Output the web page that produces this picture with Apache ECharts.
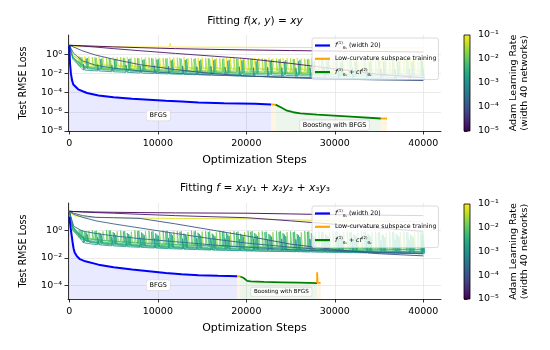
<!DOCTYPE html>
<html>
<head>
<meta charset="utf-8">
<script src="https://cdn.jsdelivr.net/npm/echarts@6.0.0/dist/echarts.min.js"></script>
<style>
html, body { margin: 0; padding: 0; background: #fff; }
#main { width: 550px; height: 350px; }
</style>
</head>
<body>
<div id="main"></div>
<script>
// ticks
var stepTicks = [0, 10000, 20000, 30000, 40000];
var topLossTicks = [1e-8, 1e-6, 1e-4, 1e-2, 1];
var botLossTicks = [1e-4, 1e-2, 1];
var lrTicks = [1e-5, 1e-4, 1e-3, 1e-2, 1e-1];

// ---- top panel, f(x,y) = xy ----
var topBfgsSteps = [0, 80, 180, 300, 450, 1000, 2000, 3300, 5000, 7100, 9000, 10900, 12700, 14600, 17500, 21000, 22800];
var topBfgsLoss = [8, 0.1, 0.01, 2e-3, 7e-4, 2.2e-4, 9e-5, 5e-5, 3.2e-5, 2.3e-5, 1.8e-5, 1.4e-5, 1.15e-5, 9.4e-6, 8e-6, 6.9e-6, 5.8e-6];
var topLcSteps1 = [22800, 23300];
var topLcLoss1 = [5.8e-6, 5.6e-6];
var topBoostSteps = [23300, 23500, 24000, 24600, 25300, 26100, 28000, 31800, 35200];
var topBoostLoss = [5.6e-6, 5e-6, 2.6e-6, 1.3e-6, 9e-7, 7e-7, 5e-7, 3.1e-7, 2e-7];
var topLcSteps2 = [35200, 35900];
var topLcLoss2 = [2e-7, 2e-7];

// ---- bottom panel, f = x1y1 + x2y2 + x3y3 ----
var botBfgsSteps = [0, 150, 360, 475, 600, 860, 1200, 1800, 3300, 5000, 7100, 9000, 10900, 12700, 14600, 16800, 18960];
var botBfgsLoss = [10, 1.5, 0.15, 0.05, 0.025, 0.013, 8e-3, 5.6e-3, 3.2e-3, 2.1e-3, 1.4e-3, 1.05e-3, 7.9e-4, 6.4e-4, 5.4e-4, 4.9e-4, 4.5e-4];
var botLcSteps1 = [18960, 19330];
var botLcLoss1 = [4.5e-4, 4.4e-4];
var botBoostSteps = [19330, 19700, 20100, 20500, 22000, 24000, 26000, 28000];
var botBoostLoss = [4.4e-4, 3.4e-4, 2.1e-4, 1.9e-4, 1.75e-4, 1.65e-4, 1.55e-4, 1.45e-4];
var botLcSteps2 = [28000, 28000, 28060, 28400];
var botLcLoss2 = [1.45e-4, 9e-4, 1.5e-4, 1.5e-4];

// ---- Adam runs: smooth (low learning rate) ----
var smoothSteps = [0, 500, 1500, 3000, 5000, 8000, 12000, 16000, 20000, 25000, 30000, 35000, 40000];
var topSmoothLR = [1e-5, 2e-5, 1e-4, 3e-4];
var topSmooth1 = [8.5, 8.2, 7.6, 6.8, 5.8, 4.8, 3.8, 3.2, 2.8, 2.4, 2.1, 1.9, 1.7];
var topSmooth2 = [8.5, 8, 7, 5.5, 3.8, 2.3, 1.2, 0.65, 0.35, 0.11, 0.03, 0.008, 0.0035];
var topSmooth3 = [8.5, 5.5, 2.2, 0.8, 0.3, 0.08, 0.025, 0.01, 0.0055, 0.0035, 0.0026, 0.0021, 0.0018];
var topSmooth4 = [8.5, 1.2, 0.2, 0.07, 0.035, 0.018, 0.01, 0.007, 0.0052, 0.0038, 0.003, 0.0025, 0.0021];
var topFlatLR = 1e-1;
var topFlatSteps = [0, 500, 1500, 5000, 11300, 11400, 11500, 20000, 30000, 40000];
var topFlatLoss = [8.5, 6, 6, 5.8, 5.5, 15, 5.5, 5.2, 4.8, 4.5];

var botSmoothLR = [1e-5, 2e-5, 1e-4, 2e-4, 3e-4];
var botSmooth1 = [25, 24, 23, 22, 21, 20, 19, 18.5, 18, 16, 14, 13, 12];
var botSmooth2 = [25, 24, 22, 20, 18, 15, 12, 10, 8.5, 5, 2.8, 1.5, 0.85];
var botSmooth3 = [25, 18, 12, 9, 8.5, 7.5, 3, 1.1, 0.4, 0.1, 0.04, 0.02, 0.014];
var botSmooth4 = [25, 15, 9, 5, 3, 1.5, 0.6, 0.25, 0.12, 0.06, 0.035, 0.025, 0.02];
var botSmooth5 = [25, 2, 0.9, 0.6, 0.4, 0.25, 0.15, 0.09, 0.06, 0.04, 0.03, 0.025, 0.022];
var botFlatLR = 6e-2;
var botFlatLoss = [25, 12, 9.5, 9, 8.5, 8, 7.5, 7.2, 7, 6, 5, 4.7, 4.5];

// ---- Adam runs: spiky (higher learning rate), spike positions ----
var sA = [0, 400, 1600, 3200, 4800, 6400, 8000, 9600, 11200, 12800, 14400, 16000, 17600, 19200, 20800, 22400, 24000, 25600, 27200, 28800, 30400, 32000, 33600, 35200, 36800, 38400, 40000];
var sB = [0, 400, 1900, 3500, 5100, 6700, 8300, 9900, 11500, 13100, 14700, 16300, 17900, 19500, 21100, 22700, 24300, 25900, 27500, 29100, 30700, 32300, 33900, 35500, 37100, 38700, 39900];
var sC = [0, 400, 1300, 2900, 4500, 6100, 7700, 9300, 10900, 12500, 14100, 15700, 17300, 18900, 20500, 22100, 23700, 25300, 26900, 28500, 30100, 31700, 33300, 34900, 36500, 38100, 39700];
var sD = [0, 400, 1100, 2600, 4200, 5800, 7400, 9000, 10600, 12200, 13800, 15400, 17000, 18600, 20200, 21800, 23400, 25000, 26600, 28200, 29800, 31400, 33000, 34600, 36200, 37800, 39400];
var sE = [0, 400, 2200, 3800, 5400, 7000, 8600, 10200, 11800, 13400, 15000, 16600, 18200, 19800, 21400, 23000, 24600, 26200, 27800, 29400, 31000, 32600, 34200, 35800, 37400, 39000, 40000];
var sF = [0, 400, 1450, 3050, 4650, 6250, 7850, 9450, 11050, 12650, 14250, 15850, 17450, 19050, 20650, 22250, 23850, 25450, 27050, 28650, 30250, 31850, 33450, 35050, 36650, 38250, 39850];
var sG = [0, 400, 1750, 3350, 4950, 6550, 8150, 9750, 11350, 12950, 14550, 16150, 17750, 19350, 20950, 22550, 24150, 25750, 27350, 28950, 30550, 32150, 33750, 35350, 36950, 38550, 39950];
var sH = [0, 400, 2050, 3650, 5250, 6850, 8450, 10050, 11650, 13250, 14850, 16450, 18050, 19650, 21250, 22850, 24450, 26050, 27650, 29250, 30850, 32450, 34050, 35650, 37250, 38850, 39800];

var topSpikyLR = [1e-3, 3e-3, 1e-2, 3e-2, 6e-2, 2e-2, 8e-2, 5e-3];
var topT1Low = [8.5, 0.3, 0.022, 0.018, 0.015, 0.013, 0.011, 0.0098, 0.0088, 0.008, 0.0072, 0.0065, 0.006, 0.0055, 0.005, 0.0046, 0.0042, 0.004, 0.0037, 0.0034, 0.0032, 0.003, 0.0028, 0.0026, 0.0025, 0.0023, 0.0022];
var topT1High = [8.5, 0.3, 0.09, 0.08, 0.07, 0.075, 0.06, 0.065, 0.055, 0.06, 0.05, 0.055, 0.045, 0.05, 0.04, 0.045, 0.04, 0.035, 0.04, 0.035, 0.03, 0.035, 0.03, 0.03, 0.028, 0.03, 0.025];
var topT2Low = [8.5, 0.4, 0.03, 0.024, 0.02, 0.017, 0.015, 0.013, 0.012, 0.011, 0.0098, 0.009, 0.0083, 0.0077, 0.0071, 0.0066, 0.0062, 0.0058, 0.0054, 0.0051, 0.0048, 0.0045, 0.0043, 0.004, 0.0038, 0.0036, 0.0035];
var topT2High = [8.5, 0.4, 0.35, 0.3, 0.28, 0.3, 0.25, 0.27, 0.22, 0.25, 0.2, 0.23, 0.2, 0.22, 0.18, 0.2, 0.17, 0.19, 0.16, 0.18, 0.15, 0.17, 0.15, 0.16, 0.14, 0.15, 0.14];
var topT3Low = [8.5, 0.5, 0.045, 0.036, 0.03, 0.026, 0.023, 0.02, 0.018, 0.016, 0.015, 0.014, 0.013, 0.012, 0.011, 0.0105, 0.01, 0.0095, 0.009, 0.0085, 0.008, 0.0076, 0.0072, 0.0068, 0.0065, 0.0062, 0.006];
var topT3High = [8.5, 0.5, 0.5, 0.45, 0.4, 0.42, 0.38, 0.4, 0.35, 0.38, 0.33, 0.36, 0.32, 0.34, 0.3, 0.33, 0.3, 0.32, 0.28, 0.31, 0.28, 0.3, 0.27, 0.29, 0.26, 0.28, 0.26];
var topT4Low = [8.5, 0.6, 0.06, 0.05, 0.042, 0.036, 0.032, 0.029, 0.026, 0.024, 0.022, 0.02, 0.019, 0.018, 0.017, 0.016, 0.015, 0.014, 0.0135, 0.013, 0.0125, 0.012, 0.0115, 0.011, 0.0105, 0.01, 0.0098];
var topT4High = [8.5, 0.6, 0.6, 0.5, 0.45, 0.5, 0.42, 0.45, 0.4, 0.42, 0.38, 0.4, 0.36, 0.4, 0.35, 0.38, 0.34, 0.36, 0.33, 0.35, 0.32, 0.34, 0.31, 0.33, 0.3, 0.32, 0.3];
var topT5Low = [8.5, 0.7, 0.08, 0.065, 0.055, 0.048, 0.043, 0.039, 0.036, 0.033, 0.031, 0.029, 0.027, 0.026, 0.025, 0.024, 0.023, 0.022, 0.021, 0.02, 0.0195, 0.019, 0.0185, 0.018, 0.0175, 0.017, 0.0165];
var topT5High = [8.5, 0.7, 0.55, 0.5, 0.48, 0.45, 0.47, 0.42, 0.45, 0.4, 0.43, 0.38, 0.42, 0.37, 0.4, 0.36, 0.39, 0.35, 0.38, 0.34, 0.37, 0.34, 0.36, 0.33, 0.35, 0.32, 0.34];
var topT6Low = [8.5, 0.55, 0.05, 0.04, 0.034, 0.03, 0.027, 0.024, 0.022, 0.02, 0.018, 0.017, 0.016, 0.015, 0.014, 0.013, 0.0125, 0.012, 0.0115, 0.011, 0.0105, 0.01, 0.0097, 0.0094, 0.0091, 0.0088, 0.0085];
var topT6High = [8.5, 0.55, 0.45, 0.42, 0.4, 0.38, 0.4, 0.36, 0.38, 0.34, 0.37, 0.33, 0.36, 0.32, 0.35, 0.31, 0.34, 0.3, 0.33, 0.3, 0.32, 0.29, 0.31, 0.28, 0.3, 0.28, 0.29];
var topT7Low = [8.5, 0.8, 0.1, 0.08, 0.068, 0.06, 0.054, 0.049, 0.045, 0.042, 0.039, 0.037, 0.035, 0.033, 0.031, 0.03, 0.029, 0.028, 0.027, 0.026, 0.025, 0.024, 0.023, 0.022, 0.022, 0.021, 0.02];
var topT7High = [8.5, 0.8, 0.6, 0.55, 0.5, 0.52, 0.48, 0.5, 0.45, 0.48, 0.44, 0.46, 0.42, 0.45, 0.41, 0.44, 0.4, 0.43, 0.4, 0.42, 0.39, 0.41, 0.38, 0.4, 0.38, 0.39, 0.37];
var topT8Low = [8.5, 0.45, 0.035, 0.028, 0.024, 0.021, 0.019, 0.017, 0.015, 0.014, 0.013, 0.012, 0.011, 0.0102, 0.0095, 0.009, 0.0085, 0.008, 0.0076, 0.0072, 0.0069, 0.0066, 0.0063, 0.006, 0.0058, 0.0056, 0.0054];
var topT8High = [8.5, 0.45, 0.4, 0.35, 0.33, 0.35, 0.3, 0.32, 0.28, 0.3, 0.27, 0.29, 0.26, 0.28, 0.25, 0.27, 0.24, 0.26, 0.23, 0.25, 0.23, 0.24, 0.22, 0.23, 0.21, 0.22, 0.21];

var botSpikyLR = [1.5e-3, 3e-3, 5e-3, 1e-2, 2e-2, 7e-3, 4e-3, 2e-3];
var botB1Low = [25, 2, 0.12, 0.09, 0.075, 0.065, 0.058, 0.052, 0.047, 0.043, 0.04, 0.037, 0.035, 0.033, 0.031, 0.03, 0.029, 0.028, 0.027, 0.026, 0.025, 0.024, 0.023, 0.022, 0.022, 0.021, 0.02];
var botB1High = [25, 2, 0.35, 0.3, 0.32, 0.28, 0.3, 0.26, 0.28, 0.25, 0.27, 0.24, 0.26, 0.23, 0.25, 0.22, 0.24, 0.22, 0.23, 0.21, 0.22, 0.2, 0.22, 0.2, 0.21, 0.19, 0.2];
var botB2Low = [25, 1.5, 0.16, 0.12, 0.1, 0.085, 0.075, 0.067, 0.06, 0.055, 0.05, 0.047, 0.044, 0.041, 0.039, 0.037, 0.035, 0.034, 0.033, 0.032, 0.031, 0.03, 0.029, 0.028, 0.028, 0.027, 0.026];
var botB2High = [25, 1.5, 0.7, 0.6, 0.65, 0.55, 0.6, 0.5, 0.58, 0.5, 0.55, 0.48, 0.52, 0.47, 0.5, 0.45, 0.5, 0.45, 0.48, 0.44, 0.47, 0.43, 0.46, 0.42, 0.45, 0.42, 0.44];
var botB3Low = [25, 1.2, 0.22, 0.16, 0.13, 0.11, 0.095, 0.085, 0.077, 0.07, 0.064, 0.06, 0.056, 0.052, 0.049, 0.046, 0.044, 0.042, 0.04, 0.038, 0.037, 0.035, 0.034, 0.033, 0.032, 0.031, 0.03];
var botB3High = [25, 1.2, 1.0, 0.9, 0.95, 0.85, 0.9, 0.8, 0.88, 0.8, 0.85, 0.78, 0.83, 0.76, 0.8, 0.75, 0.8, 0.74, 0.78, 0.72, 0.77, 0.72, 0.75, 0.7, 0.74, 0.7, 0.72];
var botB4Low = [25, 1.0, 0.3, 0.22, 0.18, 0.15, 0.13, 0.115, 0.1, 0.092, 0.085, 0.078, 0.072, 0.067, 0.063, 0.06, 0.057, 0.054, 0.052, 0.05, 0.048, 0.046, 0.044, 0.043, 0.042, 0.041, 0.04];
var botB4High = [25, 1.0, 1.1, 1.0, 1.05, 0.95, 1.0, 0.92, 0.98, 0.9, 0.96, 0.88, 0.94, 0.86, 0.92, 0.85, 0.9, 0.84, 0.88, 0.82, 0.87, 0.82, 0.86, 0.8, 0.85, 0.8, 0.84];
var botB5Low = [25, 0.9, 0.25, 0.19, 0.16, 0.14, 0.12, 0.105, 0.095, 0.087, 0.08, 0.074, 0.069, 0.065, 0.061, 0.058, 0.055, 0.053, 0.051, 0.049, 0.047, 0.045, 0.044, 0.043, 0.042, 0.041, 0.04];
var botB5High = [25, 0.9, 0.9, 0.85, 0.88, 0.8, 0.86, 0.78, 0.84, 0.76, 0.82, 0.75, 0.8, 0.74, 0.79, 0.73, 0.78, 0.72, 0.77, 0.71, 0.76, 0.7, 0.75, 0.7, 0.74, 0.69, 0.73];
var botB6Low = [25, 1.1, 0.28, 0.2, 0.16, 0.135, 0.118, 0.105, 0.095, 0.087, 0.08, 0.074, 0.069, 0.065, 0.061, 0.058, 0.055, 0.052, 0.05, 0.048, 0.046, 0.044, 0.043, 0.042, 0.041, 0.04, 0.039];
var botB6High = [25, 1.1, 1.05, 0.95, 1.0, 0.9, 0.97, 0.88, 0.95, 0.86, 0.93, 0.85, 0.9, 0.83, 0.89, 0.82, 0.88, 0.81, 0.86, 0.8, 0.85, 0.79, 0.84, 0.78, 0.83, 0.78, 0.82];
var botB7Low = [25, 1.4, 0.18, 0.13, 0.11, 0.093, 0.082, 0.073, 0.066, 0.06, 0.055, 0.051, 0.048, 0.045, 0.042, 0.04, 0.038, 0.036, 0.035, 0.034, 0.033, 0.032, 0.031, 0.03, 0.029, 0.028, 0.028];
var botB7High = [25, 1.4, 0.8, 0.7, 0.75, 0.65, 0.72, 0.62, 0.7, 0.6, 0.68, 0.58, 0.66, 0.57, 0.64, 0.56, 0.63, 0.55, 0.62, 0.54, 0.6, 0.53, 0.6, 0.52, 0.58, 0.52, 0.57];
var botB8Low = [25, 1.8, 0.14, 0.1, 0.085, 0.073, 0.064, 0.057, 0.052, 0.047, 0.043, 0.04, 0.037, 0.035, 0.033, 0.031, 0.03, 0.029, 0.028, 0.027, 0.026, 0.025, 0.024, 0.023, 0.023, 0.022, 0.021];
var botB8High = [25, 1.8, 0.5, 0.45, 0.48, 0.42, 0.46, 0.4, 0.44, 0.38, 0.42, 0.37, 0.4, 0.36, 0.39, 0.35, 0.38, 0.34, 0.37, 0.33, 0.36, 0.33, 0.35, 0.32, 0.34, 0.32, 0.33];

var FONT = 'DejaVu Sans';
var SPIKE_W = 150;   // width of one spike, in steps

var SUP = {'0': '⁰', '1': '¹', '2': '²', '3': '³', '4': '⁴', '5': '⁵', '6': '⁶', '7': '⁷', '8': '⁸', '9': '⁹', '-': '⁻'};
function powLabel(v) {
    var e = String(Math.round(Math.log10(v)));
    return '10' + e.split('').map(function (c) { return SUP[c]; }).join('');
}

var VIRIDIS = [[68,1,84],[72,36,117],[65,68,135],[53,95,141],[42,120,142],[33,145,140],[34,168,132],[68,191,112],[122,209,81],[189,223,38],[253,231,37]];
function lrColor(lr) {
    var t = (Math.log10(lr) + 5) / 4;
    t = Math.max(0, Math.min(1, t)) * 10;
    var i = Math.min(9, Math.floor(t)), f = t - i;
    var a = VIRIDIS[i], b = VIRIDIS[i + 1];
    return 'rgb(' + [0, 1, 2].map(function (k) { return Math.round(a[k] + (b[k] - a[k]) * f); }).join(',') + ')';
}

function pairs(xs, ys) {
    return xs.map(function (x, i) { return [x, ys[i]]; });
}
function spiky(xs, lows, highs) {
    var out = [];
    for (var i = 0; i < xs.length; i++) {
        out.push([xs[i], lows[i]]);
        if (highs[i] > lows[i]) {
            out.push([xs[i], highs[i]]);
            out.push([xs[i] + SPIKE_W, lows[i]]);
        }
    }
    return out;
}

function adamLine(g, data, lr, w) {
    return {
        type: 'line', xAxisIndex: g, yAxisIndex: g, data: data, symbol: 'none', silent: true, z: 2,
        itemStyle: {color: lrColor(lr)},
        lineStyle: {color: lrColor(lr), width: w, opacity: 0.9}
    };
}
function mainLine(g, name, data, color, fill, width) {
    return {
        type: 'line', name: name, xAxisIndex: g, yAxisIndex: g, data: data, symbol: 'none', silent: true, z: 3,
        itemStyle: {color: color},
        lineStyle: {color: color, width: width},
        areaStyle: {origin: 'start', color: fill}
    };
}
function note(text, coord, size, bg) {
    return {
        symbol: 'circle', symbolSize: 1, silent: true,
        itemStyle: {color: 'rgba(0,0,0,0)'},
        label: {show: true, position: 'inside', formatter: text, fontSize: size, fontFamily: FONT, color: '#000',
            backgroundColor: bg, borderColor: '#d8d8d8', borderWidth: 0.6, borderRadius: 2, padding: [2, 3, 1, 3]},
        data: [{coord: coord}]
    };
}

var BLUE_FILL = 'rgba(0,0,255,0.12)';
var GREEN_FILL = 'rgba(0,128,0,0.10)';
var ORANGE_FILL = 'rgba(255,165,0,0.16)';

var topSpiky = [
    [sA, topT1Low, topT1High], [sB, topT2Low, topT2High], [sC, topT3Low, topT3High], [sD, topT4Low, topT4High],
    [sE, topT5Low, topT5High], [sF, topT6Low, topT6High], [sG, topT7Low, topT7High], [sH, topT8Low, topT8High]
];
var botSpiky = [
    [sA, botB1Low, botB1High], [sB, botB2Low, botB2High], [sC, botB3Low, botB3High], [sD, botB4Low, botB4High],
    [sE, botB5Low, botB5High], [sF, botB6Low, botB6High], [sG, botB7Low, botB7High], [sH, botB8Low, botB8High]
];
function spikySeries(g, runs, lrs) {
    // high learning rate first, so darker runs are drawn on top
    var order = lrs.map(function (lr, i) { return i; }).sort(function (a, b) { return lrs[b] - lrs[a]; });
    return order.map(function (i) {
        return adamLine(g, spiky(runs[i][0], runs[i][1], runs[i][2]), lrs[i], 0.9);
    });
}

var series = [];
// top panel Adam curves
series.push(adamLine(0, pairs(topFlatSteps, topFlatLoss), topFlatLR, 1));
series = series.concat(spikySeries(0, topSpiky, topSpikyLR));
series.push(adamLine(0, pairs(smoothSteps, topSmooth4), topSmoothLR[3], 1));
series.push(adamLine(0, pairs(smoothSteps, topSmooth3), topSmoothLR[2], 1));
series.push(adamLine(0, pairs(smoothSteps, topSmooth2), topSmoothLR[1], 1));
series.push(adamLine(0, pairs(smoothSteps, topSmooth1), topSmoothLR[0], 1));

// bottom panel Adam curves
series.push(adamLine(1, pairs(smoothSteps, botFlatLoss), botFlatLR, 1));
series = series.concat(spikySeries(1, botSpiky, botSpikyLR));
series.push(adamLine(1, pairs(smoothSteps, botSmooth5), botSmoothLR[4], 1));
series.push(adamLine(1, pairs(smoothSteps, botSmooth4), botSmoothLR[3], 1));
series.push(adamLine(1, pairs(smoothSteps, botSmooth3), botSmoothLR[2], 1));
series.push(adamLine(1, pairs(smoothSteps, botSmooth2), botSmoothLR[1], 1));
series.push(adamLine(1, pairs(smoothSteps, botSmooth1), botSmoothLR[0], 1));

// BFGS, subspace training and boosting
var s;
s = mainLine(0, 'bfgs', pairs(topBfgsSteps, topBfgsLoss), '#0000ff', BLUE_FILL, 2);
s.markPoint = note('BFGS', [10050, 4e-7], 6.5, '#ffffff');
series.push(s);
series.push(mainLine(0, 'lowcurv', pairs(topLcSteps1, topLcLoss1), '#ffa500', ORANGE_FILL, 1.8));
s = mainLine(0, 'boost', pairs(topBoostSteps, topBoostLoss), '#008000', GREEN_FILL, 1.8);
s.markPoint = note('Boosting with BFGS', [29970, 4e-8], 6.5, 'rgba(255,255,255,0.7)');
series.push(s);
series.push(mainLine(0, 'lowcurv', pairs(topLcSteps2, topLcLoss2), '#ffa500', ORANGE_FILL, 1.8));

s = mainLine(1, 'bfgs', pairs(botBfgsSteps, botBfgsLoss), '#0000ff', BLUE_FILL, 2);
s.markPoint = note('BFGS', [10050, 1e-4], 6.5, '#ffffff');
series.push(s);
series.push(mainLine(1, 'lowcurv', pairs(botLcSteps1, botLcLoss1), '#ffa500', ORANGE_FILL, 1.8));
s = mainLine(1, 'boost', pairs(botBoostSteps, botBoostLoss), '#008000', GREEN_FILL, 1.8);
s.markPoint = note('Boosting with BFGS', [23960, 3.3e-5], 5.6, 'rgba(255,255,255,0.7)');
series.push(s);
series.push(mainLine(1, 'lowcurv', pairs(botLcSteps2, botLcLoss2), '#ffa500', ORANGE_FILL, 1.8));

// colorbars
var cbStops = VIRIDIS.map(function (c, i) { return {offset: i / 10, color: 'rgb(' + c.join(',') + ')'}; });
[2, 3].forEach(function (g) {
    series.push({
        type: 'custom', xAxisIndex: g, yAxisIndex: g, silent: true, data: [[0, lrTicks[0]]],
        renderItem: function (params, api) {
            var a = api.coord([0, lrTicks[lrTicks.length - 1]]);
            var b = api.coord([1, lrTicks[0]]);
            return {
                type: 'rect',
                shape: {x: a[0], y: a[1], width: b[0] - a[0], height: b[1] - a[1]},
                style: {fill: new echarts.graphic.LinearGradient(0, 1, 0, 0, cbStops), stroke: '#000', lineWidth: 0.8}
            };
        }
    });
});

var AX = {color: '#000', width: 0.8};
function stepAxis(g) {
    return {
        gridIndex: g, type: 'value', min: -150, max: 42000,
        axisLine: {show: true, onZero: false, lineStyle: AX},
        axisTick: {show: true, customValues: stepTicks, length: 3.5, lineStyle: AX},
        axisLabel: {customValues: stepTicks, formatter: function (v) { return String(v); }, fontSize: 9.5, fontFamily: FONT, color: '#000', margin: 8},
        splitLine: {show: true, lineStyle: {color: '#e6e6e6', width: 0.8}},
        name: 'Optimization Steps', nameLocation: 'middle', nameGap: 24,
        nameTextStyle: {fontSize: 11, fontFamily: FONT, color: '#000'}
    };
}
function lossAxis(g, min, ticks) {
    return {
        gridIndex: g, type: 'log', logBase: 10, min: min, max: 100,
        axisLine: {show: true, onZero: false, lineStyle: AX},
        axisTick: {show: true, customValues: ticks, length: 3.5, lineStyle: AX},
        axisLabel: {customValues: ticks, formatter: powLabel, fontSize: 9.5, fontFamily: FONT, color: '#000', margin: 6},
        splitLine: {show: true, lineStyle: {color: '#e6e6e6', width: 0.8}},
        minorTick: {show: false},
        name: 'Test RMSE Loss', nameLocation: 'middle', nameGap: 40, nameRotate: 90,
        nameTextStyle: {fontSize: 9.6, fontFamily: FONT, color: '#000'}
    };
}
function cbXAxis(g) {
    return {gridIndex: g, type: 'value', min: 0, max: 1, show: false};
}
function cbYAxis(g) {
    return {
        gridIndex: g, type: 'log', logBase: 10, min: lrTicks[0], max: lrTicks[lrTicks.length - 1], position: 'right',
        axisLine: {show: false},
        axisTick: {show: true, customValues: lrTicks, length: 3.5, lineStyle: AX},
        axisLabel: {customValues: lrTicks, formatter: powLabel, fontSize: 9.5, fontFamily: FONT, color: '#000', margin: 8},
        splitLine: {show: false},
        name: 'Adam Learning Rate\n(width 40 networks)', nameLocation: 'middle', nameGap: 38, nameRotate: 90,
        nameTextStyle: {fontSize: 9.5, lineHeight: 11, fontFamily: FONT, color: '#000', align: 'center'}
    };
}

var legendText = {
    bfgs: '{i|f}{sup|(1)}{sub|θ₁} (width 20)',
    lowcurv: 'Low-curvature subspace training',
    boost: '{i|f}{sup|(1)}{sub|θ₁} + {i|cf}{sup|(2)}{sub|θ₂}'
};
var LEG_RICH = {
    i: {fontStyle: 'italic', fontSize: 6.4, fontFamily: FONT, color: '#000', lineHeight: 9},
    sup: {fontSize: 4, fontFamily: FONT, color: '#000', verticalAlign: 'top', lineHeight: 5},
    sub: {fontSize: 4, fontFamily: FONT, color: '#000', verticalAlign: 'bottom', lineHeight: 5}
};
function legendBox(top) {
    return {
        data: ['bfgs', 'lowcurv', 'boost'], left: 312, top: top, orient: 'vertical',
        icon: 'rect', itemWidth: 15, itemHeight: 2.2, itemGap: 4.3, padding: [3, 2, 3, 3],
        backgroundColor: 'rgba(255,255,255,0.8)', borderColor: '#d0d0d0', borderWidth: 0.8, borderRadius: 2,
        selectedMode: false,
        textStyle: {fontSize: 6.2, fontFamily: FONT, color: '#000', lineHeight: 9, rich: LEG_RICH},
        formatter: function (n) { return legendText[n]; }
    };
}

var TITLE_RICH = {
    n: {fontSize: 10.6, fontFamily: FONT, fontWeight: 'normal', color: '#000'},
    i: {fontSize: 10.6, fontFamily: FONT, fontWeight: 'normal', fontStyle: 'italic', color: '#000'}
};

var option = {
    animation: false,
    backgroundColor: '#fff',
    title: [
        {text: '{n|Fitting }{i|f}{n|(}{i|x}{n|, }{i|y}{n|) = }{i|xy}', left: 255, top: 16, padding: 0,
            textAlign: 'center', textStyle: {fontWeight: 'normal', rich: TITLE_RICH}},
        {text: '{n|Fitting }{i|f}{n| = }{i|x}{n|₁}{i|y}{n|₁}{n| + }{i|x}{n|₂}{i|y}{n|₂}{n| + }{i|x}{n|₃}{i|y}{n|₃}',
            left: 255, top: 183, padding: 0, textAlign: 'center', textStyle: {fontWeight: 'normal', rich: TITLE_RICH}}
    ],
    legend: [legendBox(38), legendBox(206)],
    grid: [
        {left: 68, top: 35, width: 373, height: 96},
        {left: 68, top: 203, width: 373, height: 96},
        {left: 464, top: 35, width: 6, height: 96},
        {left: 464, top: 204, width: 6, height: 95}
    ],
    xAxis: [stepAxis(0), stepAxis(1), cbXAxis(2), cbXAxis(3)],
    yAxis: [lossAxis(0, 1e-8, topLossTicks), lossAxis(1, 1e-5, botLossTicks), cbYAxis(2), cbYAxis(3)],
    series: series
};

var chart = echarts.init(document.getElementById('main'));
chart.setOption(option);
</script>
</body>
</html>
